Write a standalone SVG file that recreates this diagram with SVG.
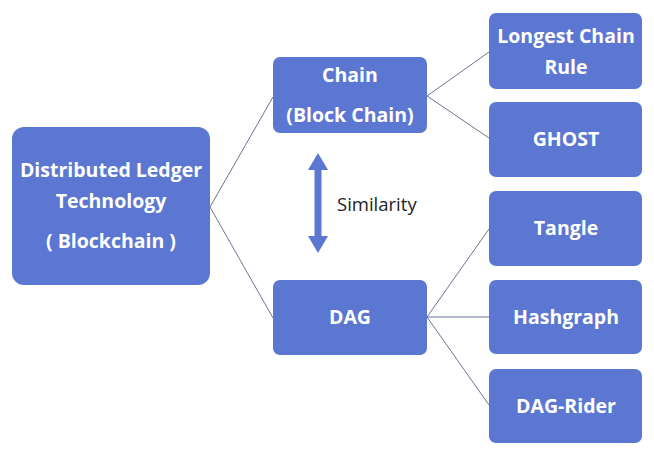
<svg xmlns="http://www.w3.org/2000/svg" width="654" height="453" viewBox="0 0 654 453">
<style>
.box{fill:#5b77d1;}
.t{font-family:"Open Sans","Noto Sans","Liberation Sans",sans-serif;font-weight:bold;font-size:19.5px;fill:#ffffff;text-anchor:middle;}
.c{stroke:#6b7594;stroke-width:1;fill:none;}
.lbl{font-family:"Open Sans","Noto Sans","Liberation Sans",sans-serif;font-size:18.5px;fill:#222;}
</style>
<rect width="654" height="453" fill="#ffffff"/>
<g id="connectors">
<path class="c" d="M210,207 L273,97"/>
<path class="c" d="M210,207 L273,318"/>
<path class="c" d="M427,96 L489,52"/>
<path class="c" d="M427,96 L489,138"/>
<path class="c" d="M427,317 L489,229"/>
<path class="c" d="M427,317 L489,317"/>
<path class="c" d="M427,317 L489,405"/>
</g>
<g id="similarity">
<polygon fill="#5b77d1" points="318,153 328,170 321.5,170 321.5,236 328,236 318,253 308,236 314.5,236 314.5,170 308,170"/>
<text class="lbl" x="337" y="211">Similarity</text>
</g>
<g id="dlt">
<rect class="box" x="12" y="127" width="198" height="158" rx="12"/>
<text class="t" x="111" y="177">Distributed Ledger</text>
<text class="t" x="111" y="208">Technology</text>
<text class="t" x="111" y="248">( Blockchain )</text>
</g>
<g id="chain">
<rect class="box" x="273" y="57" width="154" height="76" rx="7"/>
<text class="t" x="350" y="82">Chain</text>
<text class="t" x="350" y="122">(Block Chain)</text>
</g>
<g id="dag">
<rect class="box" x="273" y="280" width="154" height="75" rx="7"/>
<text class="t" x="350" y="324">DAG</text>
</g>
<g id="longest">
<rect class="box" x="489" y="13" width="153" height="76" rx="7"/>
<text class="t" x="566" y="43">Longest Chain</text>
<text class="t" x="566" y="74">Rule</text>
</g>
<g id="ghost">
<rect class="box" x="489" y="102" width="153" height="75" rx="7"/>
<text class="t" x="566" y="146">GHOST</text>
</g>
<g id="tangle">
<rect class="box" x="489" y="191" width="153" height="75" rx="7"/>
<text class="t" x="566" y="235">Tangle</text>
</g>
<g id="hashgraph">
<rect class="box" x="489" y="280" width="153" height="74" rx="7"/>
<text class="t" x="566" y="324">Hashgraph</text>
</g>
<g id="dagrider">
<rect class="box" x="489" y="369" width="153" height="74" rx="7"/>
<text class="t" x="566" y="413">DAG-Rider</text>
</g>
</svg>
